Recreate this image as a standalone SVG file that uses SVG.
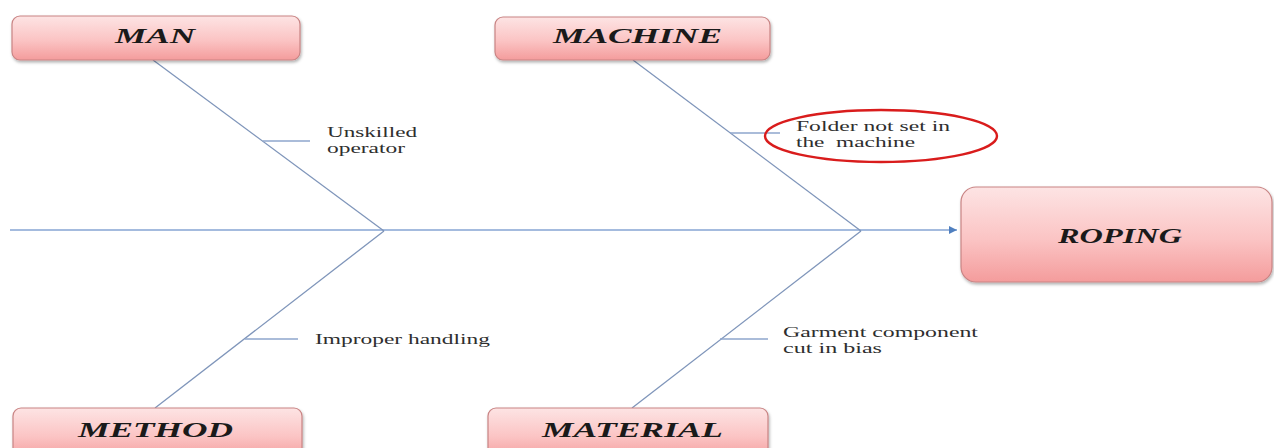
<svg xmlns="http://www.w3.org/2000/svg" width="1274" height="448" viewBox="0 0 1274 448">
  <defs>
    <linearGradient id="boxFill" x1="0" y1="0" x2="0" y2="1">
      <stop offset="0" stop-color="#fde4e4"/>
      <stop offset="0.55" stop-color="#fbc4c4"/>
      <stop offset="1" stop-color="#f49c9c"/>
    </linearGradient>
    <filter id="shadow" x="-5%" y="-20%" width="110%" height="150%">
      <feDropShadow dx="1" dy="2" stdDeviation="1.5" flood-color="#000" flood-opacity="0.3"/>
    </filter>
    <marker id="arrow" viewBox="0 0 10 10" refX="10" refY="5" markerWidth="10" markerHeight="8" markerUnits="userSpaceOnUse" orient="auto">
      <path d="M0,0 L10,5 L0,10 Z" fill="#4f7fbf"/>
    </marker>
    <style>
      .box { fill: url(#boxFill); stroke: #c98484; stroke-width: 1.2; filter: url(#shadow); }
      .head { font-family: "Liberation Serif", "Times New Roman", serif; font-weight: bold; font-style: italic; font-size: 22px; fill: #1a1a1a; }
      .spine { stroke: #86a5d3; stroke-width: 1.4; fill: none; }
      .bone { stroke: #7f95ba; stroke-width: 1.3; fill: none; }
      .tick { stroke: #8ea6cc; stroke-width: 1.3; fill: none; }
      .cause { font-family: "Liberation Serif", "Times New Roman", serif; font-size: 15.5px; fill: #2e2e2e; white-space: pre; }
      .mark { fill: none; stroke: #d91c1c; stroke-width: 2.4; }
    </style>
  </defs>

  <rect width="1274" height="448" fill="#ffffff"/>

  <!-- connectors: spine, main bones and cause ticks -->
  <g id="connectors">
    <line class="spine" x1="10" y1="230" x2="957" y2="230" marker-end="url(#arrow)"/>
    <line class="bone" x1="153" y1="60" x2="384" y2="231"/>
    <line class="bone" x1="384" y1="231" x2="155" y2="408"/>
    <line class="bone" x1="633" y1="60" x2="861" y2="231"/>
    <line class="bone" x1="861" y1="231" x2="632" y2="408"/>
    <line class="tick" x1="263" y1="141" x2="310" y2="141"/>
    <line class="tick" x1="245" y1="339" x2="298" y2="339"/>
    <line class="tick" x1="730" y1="133" x2="780" y2="133"/>
    <line class="tick" x1="720" y1="339" x2="768" y2="339"/>
  </g>

  <g id="man">
    <rect class="box" x="12" y="16" width="288" height="44" rx="8"/>
    <text class="head" x="115" y="43" textLength="80" lengthAdjust="spacingAndGlyphs">MAN</text>
  </g>

  <g id="machine">
    <rect class="box" x="495" y="17" width="275" height="43" rx="8"/>
    <text class="head" x="553" y="43" textLength="169" lengthAdjust="spacingAndGlyphs">MACHINE</text>
  </g>

  <g id="method">
    <rect class="box" x="13" y="408" width="289" height="52" rx="8"/>
    <text class="head" x="78" y="437" textLength="155" lengthAdjust="spacingAndGlyphs">METHOD</text>
  </g>

  <g id="material">
    <rect class="box" x="488" y="408" width="280" height="52" rx="8"/>
    <text class="head" x="542" y="437" textLength="181" lengthAdjust="spacingAndGlyphs">MATERIAL</text>
  </g>

  <g id="roping">
    <rect class="box" x="961" y="187" width="311" height="95" rx="15"/>
    <text class="head" x="1058" y="243" textLength="124" lengthAdjust="spacingAndGlyphs">ROPING</text>
  </g>

  <g id="cause-unskilled">
    <text class="cause" x="327" y="137" textLength="90" lengthAdjust="spacingAndGlyphs">Unskilled</text>
    <text class="cause" x="327" y="153" textLength="78" lengthAdjust="spacingAndGlyphs">operator</text>
  </g>

  <g id="cause-handling">
    <text class="cause" x="315" y="344" textLength="175" lengthAdjust="spacingAndGlyphs">Improper handling</text>
  </g>

  <g id="cause-folder">
    <ellipse class="mark" cx="881" cy="136" rx="116" ry="26"/>
    <text class="cause" x="796" y="131" textLength="154" lengthAdjust="spacingAndGlyphs">Folder not set in</text>
    <text class="cause" x="796" y="147" textLength="119" lengthAdjust="spacingAndGlyphs">the  machine</text>
  </g>

  <g id="cause-bias">
    <text class="cause" x="783" y="337" textLength="195" lengthAdjust="spacingAndGlyphs">Garment component</text>
    <text class="cause" x="783" y="353" textLength="99" lengthAdjust="spacingAndGlyphs">cut in bias</text>
  </g>
</svg>
